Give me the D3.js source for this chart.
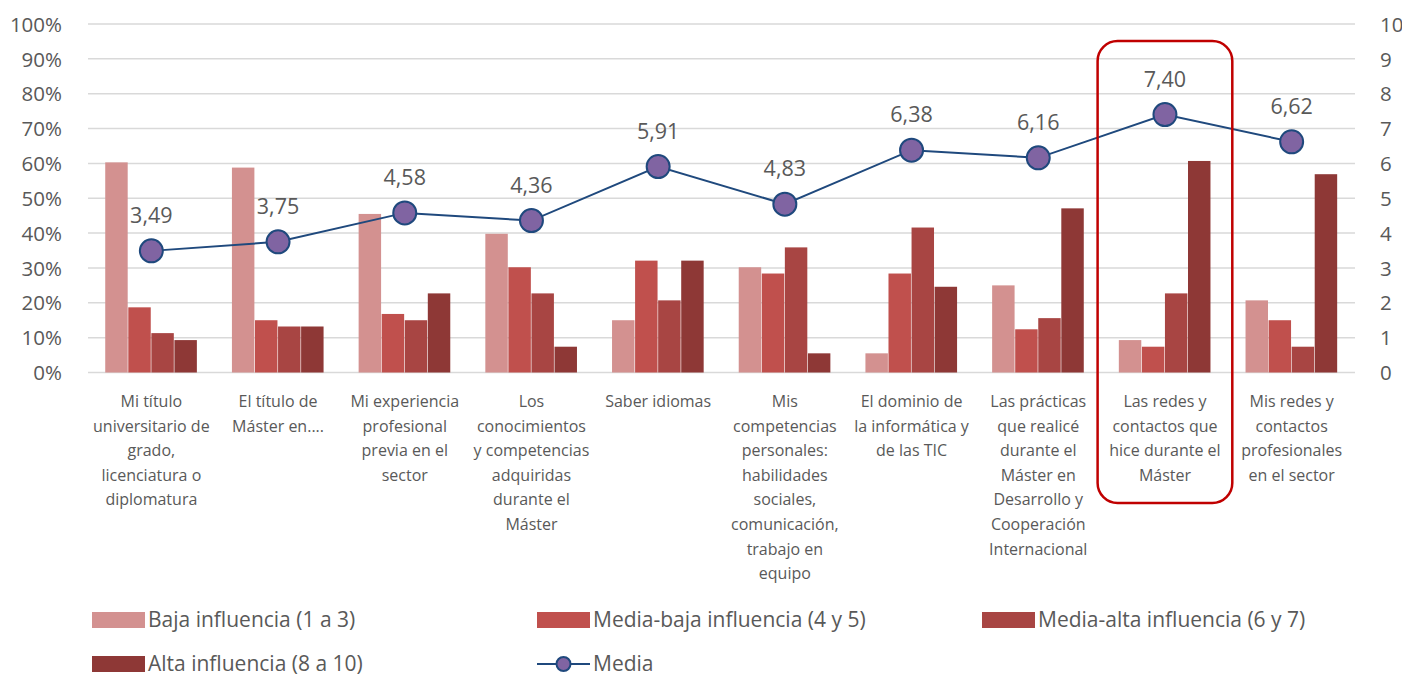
<!DOCTYPE html>
<html><head><meta charset="utf-8">
<script src="https://cdn.jsdelivr.net/npm/d3@7"></script>
<style>
html,body{margin:0;padding:0;background:#fff;}
svg text{font-family:"Open Sans",sans-serif;fill:#595959;}
</style></head>
<body>
<svg id="chart" width="1402" height="679"></svg>
<script>
const categories = [
  ["Mi título","universitario de","grado,","licenciatura o","diplomatura"],
  ["El título de","Máster en...."],
  ["Mi experiencia","profesional","previa en el","sector"],
  ["Los","conocimientos","y competencias","adquiridas","durante el","Máster"],
  ["Saber idiomas"],
  ["Mis","competencias","personales:","habilidades","sociales,","comunicación,","trabajo en","equipo"],
  ["El dominio de","la informática y","de las TIC"],
  ["Las prácticas","que realicé","durante el","Máster en","Desarrollo y","Cooperación","Internacional"],
  ["Las redes y","contactos que","hice durante el","Máster"],
  ["Mis redes y","contactos","profesionales","en el sector"]
];
const baja      = [60.3, 58.8, 45.5, 39.8, 15.0, 30.2, 5.5, 25.0, 9.3, 20.7];
const mediaBaja = [18.7, 15.0, 16.8, 30.2, 32.1, 28.4, 28.4, 12.4, 7.4, 15.0];
const mediaAlta = [11.3, 13.2, 15.0, 22.7, 20.7, 35.9, 41.6, 15.6, 22.7, 7.4];
const alta      = [9.3, 13.2, 22.7, 7.4, 32.1, 5.5, 24.6, 47.1, 60.7, 56.9];
const media     = [3.49, 3.75, 4.58, 4.36, 5.91, 4.83, 6.38, 6.16, 7.40, 6.62];
const seriesNames = ["Baja influencia (1 a 3)","Media-baja influencia (4 y 5)","Media-alta influencia (6 y 7)","Alta influencia (8 a 10)"];
const lineName = "Media";
const leftTicks = [0,10,20,30,40,50,60,70,80,90,100];
const rightTicks = [0,1,2,3,4,5,6,7,8,9,10];
const highlightIndex = 8;

const colors = ["#D39190","#C0504D","#A84543","#8E3836"];
const series = [baja, mediaBaja, mediaAlta, alta];

const svg = d3.select("#chart");
const pLeft = 88, pRight = 1355, pTop = 24, pBottom = 372.5;

const x = d3.scaleBand().domain(d3.range(categories.length)).range([pLeft,pRight]).paddingInner(0).paddingOuter(0);
const xs = d3.scaleBand().domain(d3.range(4)).range([0, x.bandwidth()*0.728]);
const y = d3.scaleLinear().domain([0,100]).range([pBottom,pTop]);
const y2 = d3.scaleLinear().domain([0,10]).range([pBottom,pTop]);

// gridlines
svg.append("g").selectAll("line").data(leftTicks).join("line")
  .attr("x1",pLeft).attr("x2",pRight)
  .attr("y1",d=>y(d)).attr("y2",d=>y(d))
  .attr("stroke","#D9D9D9").attr("stroke-width",1.5);

// left axis
const la = svg.append("g").attr("transform",`translate(${pLeft-26},0)`)
  .call(d3.axisLeft(y).tickValues(leftTicks).tickFormat(d=>d+"%").tickSize(0));
la.select(".domain").remove();
la.selectAll("text").attr("font-size",20.5).attr("dy","0.35em").attr("x",0);

// right axis
const ra = svg.append("g").attr("transform",`translate(${pRight+25},0)`)
  .call(d3.axisRight(y2).tickValues(rightTicks).tickFormat(d=>d).tickSize(0));
ra.select(".domain").remove();
ra.selectAll("text").attr("font-size",20.5).attr("dy","0.35em").attr("x",0);

// bars
const groupOffset = (x.bandwidth() - xs.range()[1]) / 2;
series.forEach((vals, si) => {
  svg.append("g").selectAll("rect").data(vals).join("rect")
    .attr("x",(d,i)=>x(i)+groupOffset+xs(si))
    .attr("width",xs.bandwidth()-0.6)
    .attr("y",d=>y(d))
    .attr("height",d=>y(0)-y(d))
    .attr("fill",colors[si]);
});

// line
const cx = i => x(i)+x.bandwidth()/2;
svg.append("path").datum(media)
  .attr("d", d3.line().x((d,i)=>cx(i)).y(d=>y2(d)))
  .attr("fill","none").attr("stroke","#1F497D").attr("stroke-width",2);
svg.append("g").selectAll("circle").data(media).join("circle")
  .attr("cx",(d,i)=>cx(i)).attr("cy",d=>y2(d)).attr("r",11.5)
  .attr("fill","#8064A2").attr("stroke","#1F497D").attr("stroke-width",2);
svg.append("g").selectAll("text").data(media).join("text")
  .attr("x",(d,i)=>cx(i)).attr("y",d=>y2(d)-28)
  .attr("text-anchor","middle").attr("font-size",21.5)
  .text(d=>d.toFixed(2).replace(".",","));

// category labels
const cl = svg.append("g");
categories.forEach((lines,i)=>{
  const t = cl.append("text").attr("text-anchor","middle").attr("font-size",16);
  lines.forEach((ln,j)=>{
    t.append("tspan").attr("x",cx(i)).attr("y",407+j*24.6).text(ln);
  });
});

// highlight box
svg.append("rect")
  .attr("x",x(highlightIndex)-4).attr("y",41)
  .attr("width",x.bandwidth()+8).attr("height",462)
  .attr("rx",20).attr("ry",20)
  .attr("fill","none").attr("stroke","#C00000").attr("stroke-width",2.5);

// legend
const legendPos = [[92,620],[537,620],[982,620],[92,664]];
seriesNames.forEach((n,i)=>{
  const [lx,ly] = legendPos[i];
  svg.append("rect").attr("x",lx).attr("y",ly-8).attr("width",53).attr("height",16).attr("fill",colors[i]);
  svg.append("text").attr("x",lx+56).attr("y",ly).attr("dy","0.35em").attr("font-size",21).text(n);
});
{
  const lx = 537, ly = 664;
  svg.append("line").attr("x1",lx).attr("x2",lx+53).attr("y1",ly).attr("y2",ly).attr("stroke","#1F497D").attr("stroke-width",2);
  svg.append("circle").attr("cx",lx+26.5).attr("cy",ly).attr("r",7).attr("fill","#8064A2").attr("stroke","#1F497D").attr("stroke-width",2);
  svg.append("text").attr("x",lx+56).attr("y",ly).attr("dy","0.35em").attr("font-size",21).text(lineName);
}
</script>
</body></html>
